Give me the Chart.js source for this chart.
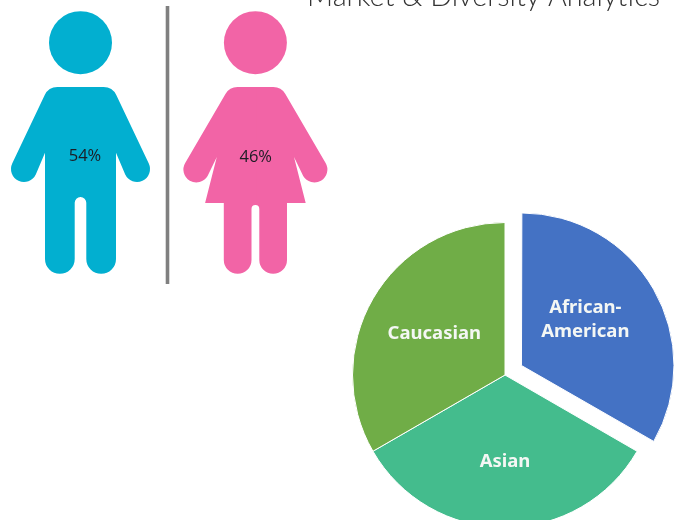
<!DOCTYPE html>
<html>
<head>
<meta charset="utf-8">
<title>Market & Diversity Analytics</title>
<script src="https://cdn.jsdelivr.net/npm/chart.js@4"></script>
<style>
  html, body { margin: 0; padding: 0; background: #fff; overflow: hidden; width: 682px; height: 520px; }
  canvas { position: absolute; left: 0; top: 0; }
</style>
</head>
<body>
<canvas id="chart" width="720" height="570"></canvas>
<script>
const chartTitle = 'Market & Diversity Analytics';

const genderLabels = ['54%', '46%'];

const ethnicLabels = ['African-American', 'Asian', 'Caucasian'];
const ethnicValues = [33.3, 33.3, 33.3];
const ethnicColors = ['#4472C4', '#44BC8D', '#70AD47'];

// Chart.js moves a slice by a quarter of this number
const ethnicOffsets = [76, 0, 0];

const maleColor = '#02AFD0';
const femaleColor = '#F264A6';

// right half of the male figure, x is relative to the middle of the body
function maleHalf(ctx) {
  ctx.beginPath();
  ctx.moveTo(-1, 87);
  ctx.arcTo(32, 87, 67.5, 163, 14);
  ctx.lineTo(68.3, 163.5);
  ctx.arc(56.5, 169, 13, -25 * Math.PI / 180, 155 * Math.PI / 180);
  ctx.lineTo(35.5, 152.7);
  ctx.lineTo(35.5, 259);
  ctx.arc(20.65, 259, 14.85, 0, Math.PI);
  ctx.lineTo(5.8, 202.8);
  ctx.arc(0, 202.8, 5.8, 0, -Math.PI / 2, true);
  ctx.lineTo(-1, 197);
  ctx.closePath();
  ctx.fill();
}

// right half of the female figure
function femaleHalf(ctx) {
  ctx.beginPath();
  ctx.moveTo(-1, 87);
  ctx.arcTo(25.9, 87, 69.6, 161.7, 14);
  ctx.lineTo(70.2, 163);
  ctx.arc(59, 169.5, 13, -30.5 * Math.PI / 180, 149.5 * Math.PI / 180);
  ctx.lineTo(38.6, 157);
  ctx.lineTo(50.3, 203);
  ctx.lineTo(31.6, 203);
  ctx.lineTo(31.6, 260);
  ctx.arc(17.75, 260, 13.85, 0, Math.PI);
  ctx.lineTo(3.9, 208.9);
  ctx.arc(0, 208.9, 3.9, 0, -Math.PI / 2, true);
  ctx.lineTo(-1, 205);
  ctx.closePath();
  ctx.fill();
}

function drawFigure(ctx, cx, color, half, label, labelX, labelY) {
  ctx.save();
  ctx.fillStyle = color;
  ctx.beginPath();
  ctx.arc(cx, 42.7, 31.5, 0, Math.PI * 2);
  ctx.fill();
  ctx.translate(cx, 0);
  half(ctx);
  ctx.scale(-1, 1);
  half(ctx);
  ctx.restore();

  ctx.save();
  ctx.fillStyle = '#1c1c24';
  ctx.font = '16.5px "Open Sans"';
  ctx.textAlign = 'center';
  ctx.textBaseline = 'middle';
  ctx.fillText(label, labelX, labelY);
  ctx.restore();
}

// figures, divider and title sit behind the pie on the same canvas
const figuresPlugin = {
  id: 'figures',
  beforeDraw(chart) {
    const ctx = chart.ctx;
    drawFigure(ctx, 80.5, maleColor, maleHalf, genderLabels[0], 85, 156);
    drawFigure(ctx, 255.4, femaleColor, femaleHalf, genderLabels[1], 255.7, 157);

    ctx.save();
    ctx.fillStyle = '#808080';
    ctx.fillRect(165.7, 6, 3.6, 278);

    ctx.fillStyle = '#333333';
    ctx.font = '300 28.8px Lato';
    ctx.textAlign = 'left';
    ctx.textBaseline = 'alphabetic';
    ctx.fillText(chartTitle, 307, 6);
    ctx.restore();
  },
};

// the offset slice is drawn slightly bigger by Chart.js, take that back
const offsetRadiusFix = {
  id: 'offsetRadiusFix',
  afterDatasetsUpdate(chart) {
    chart.getDatasetMeta(0).data[0].outerRadius -= 2.5;
  },
};

// slice names in white, the first one wraps on its hyphen
const labelRadius = [0.53, 0.565, 0.535];
const labelNudge = [[-5, -6], [0, 1], [0, 0]];

const sliceLabelsPlugin = {
  id: 'sliceLabels',
  afterDatasetsDraw(chart) {
    const ctx = chart.ctx;
    const arcs = chart.getDatasetMeta(0).data;
    ctx.save();
    ctx.fillStyle = '#f4f7f4';
    ctx.font = 'bold 18.5px "Noto Sans"';
    ctx.textAlign = 'center';
    ctx.textBaseline = 'middle';
    ctx.filter = 'blur(0.6px)';
    arcs.forEach((arc, i) => {
      const mid = (arc.startAngle + arc.endAngle) / 2;
      const r = arc.outerRadius * labelRadius[i] + ethnicOffsets[i] / 4;
      const x = arc.x + Math.cos(mid) * r + labelNudge[i][0];
      const y = arc.y + Math.sin(mid) * r + labelNudge[i][1];
      const parts = ethnicLabels[i].split('-');
      if (parts.length > 1) {
        ctx.fillText(parts[0] + '-', x, y - 12);
        ctx.fillText(parts[1], x, y + 12);
      } else {
        ctx.fillText(parts[0], x, y);
      }
    });
    ctx.restore();
  },
};

new Chart(document.getElementById('chart').getContext('2d'), {
  type: 'pie',
  data: {
    labels: ethnicLabels,
    datasets: [{
      data: ethnicValues,
      backgroundColor: ethnicColors,
      offset: ethnicOffsets,
      borderColor: '#ffffff',
      borderWidth: 1,
    }],
  },
  options: {
    responsive: false,
    animation: false,
    layout: {
      padding: { left: 314, right: 24, top: 184, bottom: 4 },
    },
    plugins: {
      legend: { display: false },
      title: { display: false },
      tooltip: { enabled: false },
    },
  },
  plugins: [figuresPlugin, offsetRadiusFix, sliceLabelsPlugin],
});
</script>
</body>
</html>
